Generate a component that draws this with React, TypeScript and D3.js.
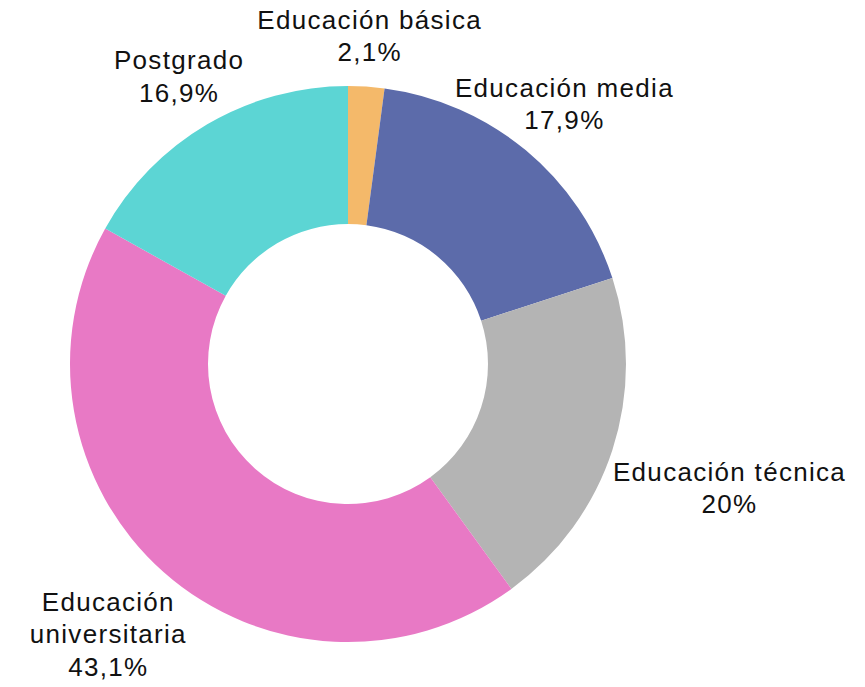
import React, { useEffect, useRef } from "react";
import * as d3 from "d3";

const categories = [
  "Educación básica",
  "Educación media",
  "Educación técnica",
  "Educación universitaria",
  "Postgrado",
];
const values = [2.1, 17.9, 20, 43.1, 16.9];
const colors = ["#F4B96A", "#5C6BAA", "#B4B4B4", "#E879C5", "#5CD5D4"];

function App() {
  const ref = useRef<SVGSVGElement>(null);

  useEffect(() => {
    const width = 865,
      height = 687;
    const cx = 348,
      cy = 364,
      outer = 278,
      inner = 140;
    const fontSize = 26,
      lineHeight = 32.5,
      labelRadius = 296;

    const svg = d3.select(ref.current);
    svg.selectAll("*").remove();
    svg.attr("width", width).attr("height", height);

    const g = svg.append("g").attr("transform", "translate(" + cx + "," + cy + ")");

    const data = categories.map((c, i) => ({ name: c, value: values[i], color: colors[i] }));
    const pie = d3
      .pie<any>()
      .value((d) => d.value)
      .sort(null);
    const arc = d3.arc<any>().innerRadius(inner).outerRadius(outer);
    const arcs = pie(data);

    g.selectAll("path")
      .data(arcs)
      .enter()
      .append("path")
      .attr("d", arc)
      .attr("fill", (d) => d.data.color);

    arcs.forEach((a) => {
      const name = a.data.name;
      const lines = name.length > 20 ? name.split(" ") : [name];
      lines.push(String(a.data.value).replace(".", ",") + "%");

      // one <text> per line so line boxes don't collide
      const texts = lines.map((l) =>
        g
          .append("text")
          .attr("text-anchor", "middle")
          .attr("font-family", "'Liberation Sans', Arial, sans-serif")
          .attr("font-size", fontSize)
          .attr("letter-spacing", 1.3)
          .attr("fill", "#111")
          .attr("dominant-baseline", "central")
          .text(l)
      );
      const w = d3.max(texts, (t) => (t.node() as SVGTextElement).getComputedTextLength()) || 0;
      const h = lines.length * lineHeight;

      const theta = (a.startAngle + a.endAngle) / 2;
      const sx = Math.sin(theta),
        sy = -Math.cos(theta);
      const ext = Math.min(
        Math.abs(sx) > 1e-6 ? w / 2 / Math.abs(sx) : Infinity,
        Math.abs(sy) > 1e-6 ? h / 2 / Math.abs(sy) : Infinity
      );
      const dist = labelRadius + ext;
      const tx = sx * dist,
        ty = sy * dist;

      texts.forEach((t, i) => {
        t.attr("x", tx).attr("y", ty + (i - (lines.length - 1) / 2) * lineHeight);
      });
    });
  }, []);

  return (
    <svg
      ref={ref}
      style={{ position: "absolute", left: 0, top: 0, background: "#fff" }}
    ></svg>
  );
}

export default App;
